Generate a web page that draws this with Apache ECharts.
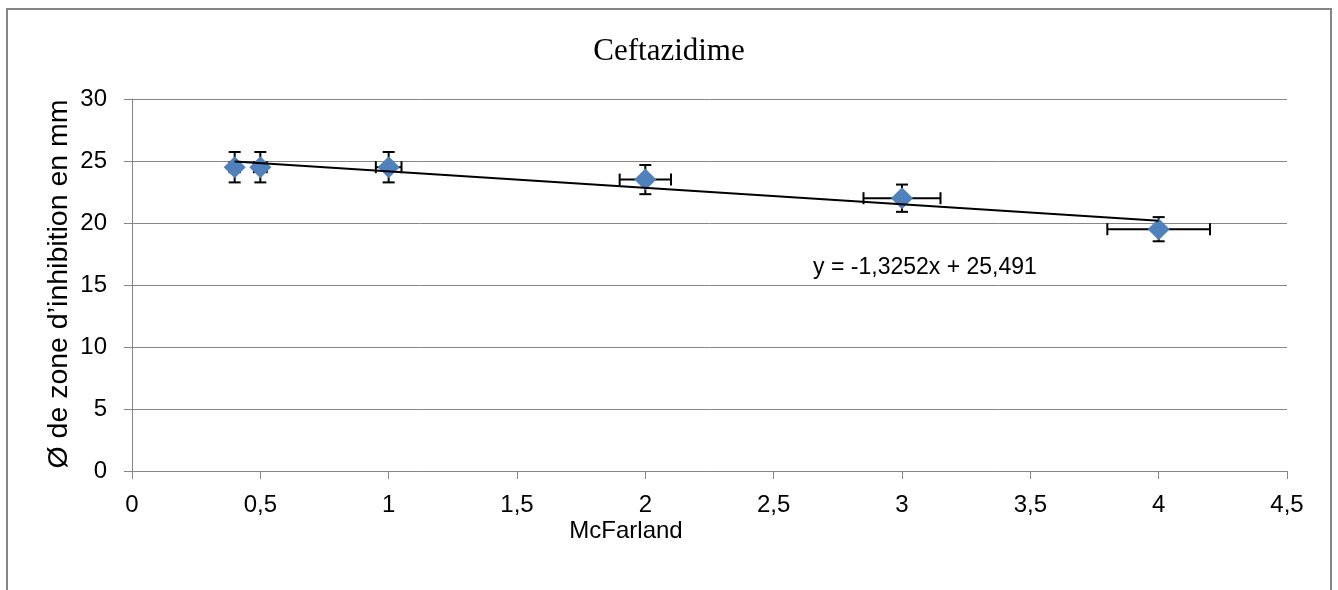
<!DOCTYPE html>
<html><head><meta charset="utf-8">
<script src="https://cdn.jsdelivr.net/npm/echarts@6/dist/echarts.min.js"></script>
<style>html,body{margin:0;padding:0;background:#fff}#c{width:1338px;height:590px}</style>
</head><body><div id="c"></div>
<script>
const titleText = 'Ceftazidime';
const xAxisName = 'McFarland';
const yAxisName = 'Ø de zone d’inhibition en mm';
const xValues = [0.4, 0.5, 1, 2, 3, 4];
const yValues = [24.5, 24.5, 24.5, 23.5, 22, 19.5];
const xErr = [0.02, 0.025, 0.05, 0.1, 0.15, 0.2];
const yErr = [1.225, 1.225, 1.225, 1.175, 1.1, 0.975];
const trendSlope = -1.3252;
const trendIntercept = 25.491;
const trendRange = [0.4, 4];
const equationText = 'y = -1,3252x + 25,491';
const xTickLabels = ['0', '0,5', '1', '1,5', '2', '2,5', '3', '3,5', '4', '4,5'];
const yTickLabels = ['0', '5', '10', '15', '20', '25', '30'];

const points = xValues.map((x, i) => [x, yValues[i]]);
const errData = xValues.map((x, i) => [x, yValues[i], xErr[i], yErr[i]]);
const trendData = trendRange.map(x => [x, trendSlope * x + trendIntercept]);

const FONT = '"Liberation Sans", Arial, sans-serif';
const GRAY = '#868686';

const chart = echarts.init(document.getElementById('c'), null, {renderer: 'canvas'});
chart.setOption({
  animation: false,
  backgroundColor: '#fff',
  title: {
    text: titleText, left: 'center', top: 31,
    textStyle: {fontFamily: '"Liberation Serif", "Times New Roman", serif', fontSize: 31, fontWeight: 'normal', color: '#000'}
  },
  grid: {left: 132, right: 51, top: 99, bottom: 119},
  xAxis: {
    type: 'value', min: 0, max: 4.5, interval: 0.5,
    axisLine: {show: true, lineStyle: {color: GRAY, width: 1}},
    axisTick: {show: true, length: 8, lineStyle: {color: GRAY}},
    splitLine: {show: false},
    axisLabel: {
      color: '#000', fontFamily: FONT, fontSize: 24, margin: 22,
      formatter: (v) => xTickLabels[Math.round(v / 0.5)]
    }
  },
  yAxis: {
    type: 'value', min: 0, max: 30, interval: 5,
    axisLine: {show: true, lineStyle: {color: GRAY, width: 1}},
    axisTick: {show: true, length: 8, lineStyle: {color: GRAY}},
    splitLine: {show: true, lineStyle: {color: GRAY, width: 1}},
    axisLabel: {
      color: '#000', fontFamily: FONT, fontSize: 24, margin: 25,
      formatter: (v) => yTickLabels[Math.round(v / 5)]
    }
  },
  graphic: [
    {type: 'rect', shape: {x: 7, y: 9, width: 1324, height: 620}, style: {fill: null, stroke: GRAY, lineWidth: 2}, silent: true, z: 100},
    {type: 'text', x: 59, y: 284, rotation: Math.PI / 2,
      style: {text: yAxisName, fontFamily: FONT, fontSize: 28.5, fill: '#000', align: 'center', verticalAlign: 'middle'}},
    {type: 'text', x: 626, y: 531,
      style: {text: xAxisName, fontFamily: FONT, fontSize: 24, fill: '#000', align: 'center', verticalAlign: 'middle'}},
    {type: 'text', x: 925, y: 268,
      style: {text: equationText, fontFamily: FONT, fontSize: 23, fill: '#000', align: 'center', verticalAlign: 'middle'}}
  ],
  series: [
    {
      type: 'custom', z: 2,
      data: errData,
      renderItem: function (params, api) {
        const x = api.value(0), y = api.value(1), ex = api.value(2), ey = api.value(3);
        const top = api.coord([x, y + ey]), bot = api.coord([x, y - ey]);
        const l = api.coord([x - ex, y]), r = api.coord([x + ex, y]);
        const cap = 6;
        const st = {stroke: '#000', lineWidth: 2, fill: null};
        const ln = (x1, y1, x2, y2) => ({type: 'line', shape: {x1, y1, x2, y2}, style: st});
        return {type: 'group', children: [
          ln(top[0], top[1], bot[0], bot[1]),
          ln(top[0] - cap, top[1], top[0] + cap, top[1]),
          ln(bot[0] - cap, bot[1], bot[0] + cap, bot[1]),
          ln(l[0], l[1], r[0], r[1]),
          ln(l[0], l[1] - cap, l[0], l[1] + cap),
          ln(r[0], r[1] - cap, r[0], r[1] + cap)
        ]};
      }
    },
    {
      type: 'scatter', z: 3,
      data: points,
      symbol: 'diamond', symbolSize: [22, 22],
      itemStyle: {color: '#4F81BD', opacity: 1}
    },
    {
      type: 'line', z: 4,
      data: trendData,
      symbol: 'none',
      lineStyle: {color: '#000', width: 2}
    }
  ]
});
</script>
</body></html>
